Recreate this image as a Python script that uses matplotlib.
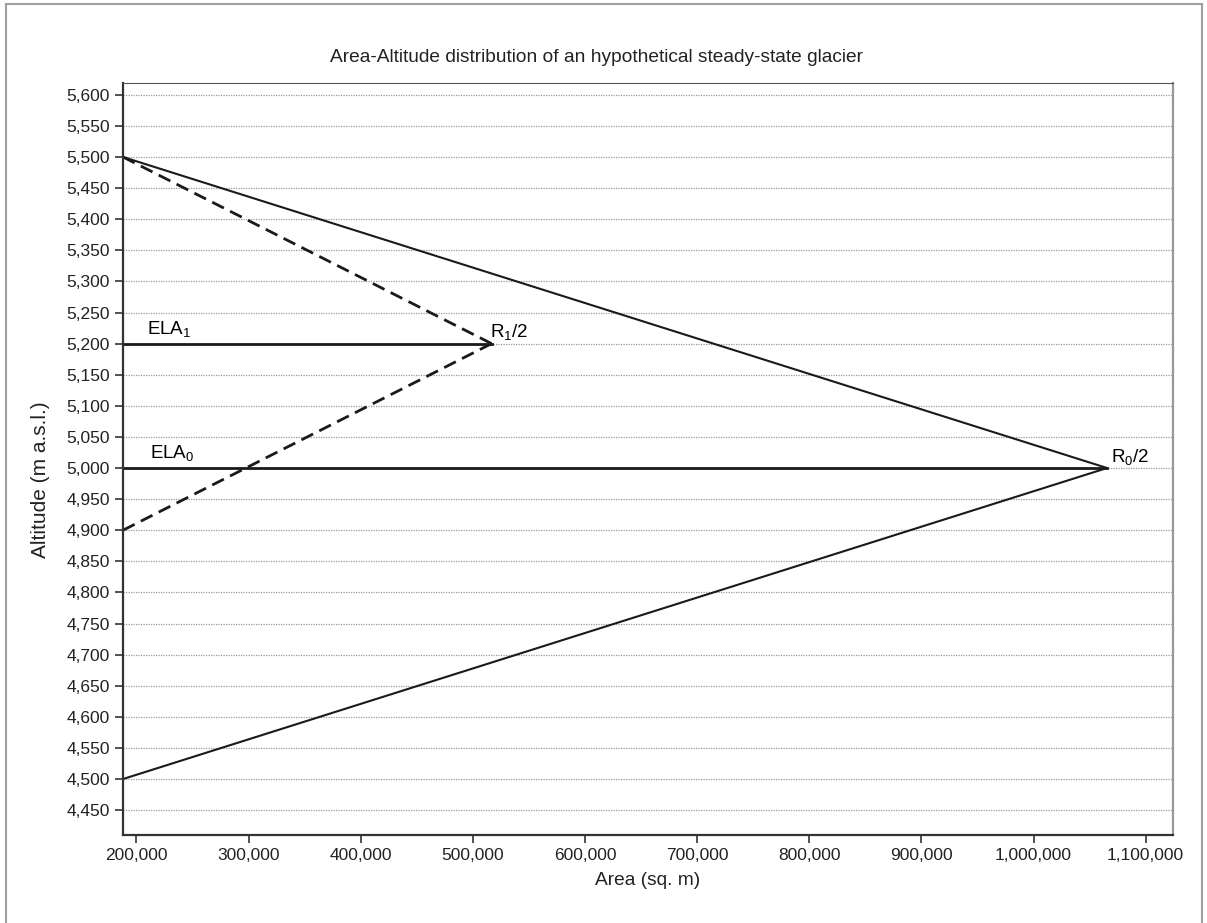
import numpy as np
import matplotlib
matplotlib.use("Agg")
from matplotlib import pyplot as plt
from matplotlib.ticker import FuncFormatter, MultipleLocator
from matplotlib.lines import Line2D

plt.rcParams['font.family'] = ['Liberation Sans', 'DejaVu Sans']
plt.rcParams['mathtext.fontset'] = 'custom'
plt.rcParams['mathtext.rm'] = 'Liberation Sans'
plt.rcParams['mathtext.it'] = 'Liberation Sans:italic'

# data
x_start = 188000
steady_x = [x_start, 1065600, x_start]      # R0/2 triangle
steady_y = [5500, 5000, 4500]
new_x = [x_start, 516700, x_start]          # R1/2 triangle (dashed)
new_y = [5500, 5200, 4900]
ela_alt = [5200, 5000]
ela_end = [516700, 1065600]
ela_names = ["ELA$_{\\rm 1}$", "ELA$_{\\rm 0}$"]
apex_names = ["R$_{\\rm 1}$/2", "R$_{\\rm 0}$/2"]

fig = plt.figure(figsize=(12.07, 9.23), dpi=100)
ax = fig.add_axes([123 / 1207, 1 - 835 / 923, 1050 / 1207, 752 / 923])

ax.plot(steady_x, steady_y, "-", color="#1a1a1a", lw=1.5)
# dashed legs drawn from the left ends so each starts with a dash
ax.plot(new_x[:2], new_y[:2], color="#1a1a1a", lw=2, dashes=(4.7, 2.5))
ax.plot(new_x[2:0:-1], new_y[2:0:-1], color="#1a1a1a", lw=2, dashes=(4.7, 2.5))
for alt, end in zip(ela_alt, ela_end):
    ax.plot([x_start, end], [alt, alt], "-", color="#1a1a1a", lw=2)

ax.text(x_start + 21000, ela_alt[0] + 8, ela_names[0], fontsize=13.5, va="bottom")
ax.text(x_start + 24000, ela_alt[1] + 8, ela_names[1], fontsize=13.5, va="bottom")
ax.text(ela_end[0] - 1500, ela_alt[0] + 2, apex_names[0], fontsize=13.5, va="bottom")
ax.text(ela_end[1] + 3500, ela_alt[1] + 2, apex_names[1], fontsize=13.5, va="bottom")

ax.set_xlim(x_start, 1124400)
ax.set_ylim(4410, 5619)
ax.xaxis.set_major_locator(MultipleLocator(100000))
ax.yaxis.set_major_locator(MultipleLocator(50))
comma = FuncFormatter(lambda v, p: "{:,.0f}".format(v))
ax.xaxis.set_major_formatter(comma)
ax.yaxis.set_major_formatter(comma)
ax.tick_params(labelsize=12.5, length=6, width=1.2, color="#333333", labelcolor="#222222")
ax.yaxis.grid(True, color="#9a9a9a", lw=0.9, ls=(0, (1, 1)))
ax.set_axisbelow(True)

for s in ["left", "bottom"]:
    ax.spines[s].set_color("#333333")
    ax.spines[s].set_linewidth(1.6)
ax.spines["top"].set_color("#555555")
ax.spines["right"].set_color("#999999")
ax.spines["right"].set_linewidth(1.6)

ax.set_xlabel("Area (sq. m)", fontsize=13.8, color="#222222", labelpad=6)
ax.set_ylabel("Altitude (m a.s.l.)", fontsize=15, color="#222222")
ax.yaxis.set_label_coords(-0.07, 0.472)

fig.text(596 / 1207, 1 - 57 / 923, "Area-Altitude distribution of an hypothetical steady-state glacier",
         ha="center", va="center", fontsize=13.8, color="#222222")

# thin frame round the whole picture
for xs, ys in [([6, 6], [0, 919]), ([6, 1202], [919, 919]), ([1202, 1202], [0, 919])]:
    fig.add_artist(Line2D(np.array(xs) / 1207, np.array(ys) / 923, color="#a0a0a0", lw=1.5))

fig.savefig("out.png", dpi=100)
